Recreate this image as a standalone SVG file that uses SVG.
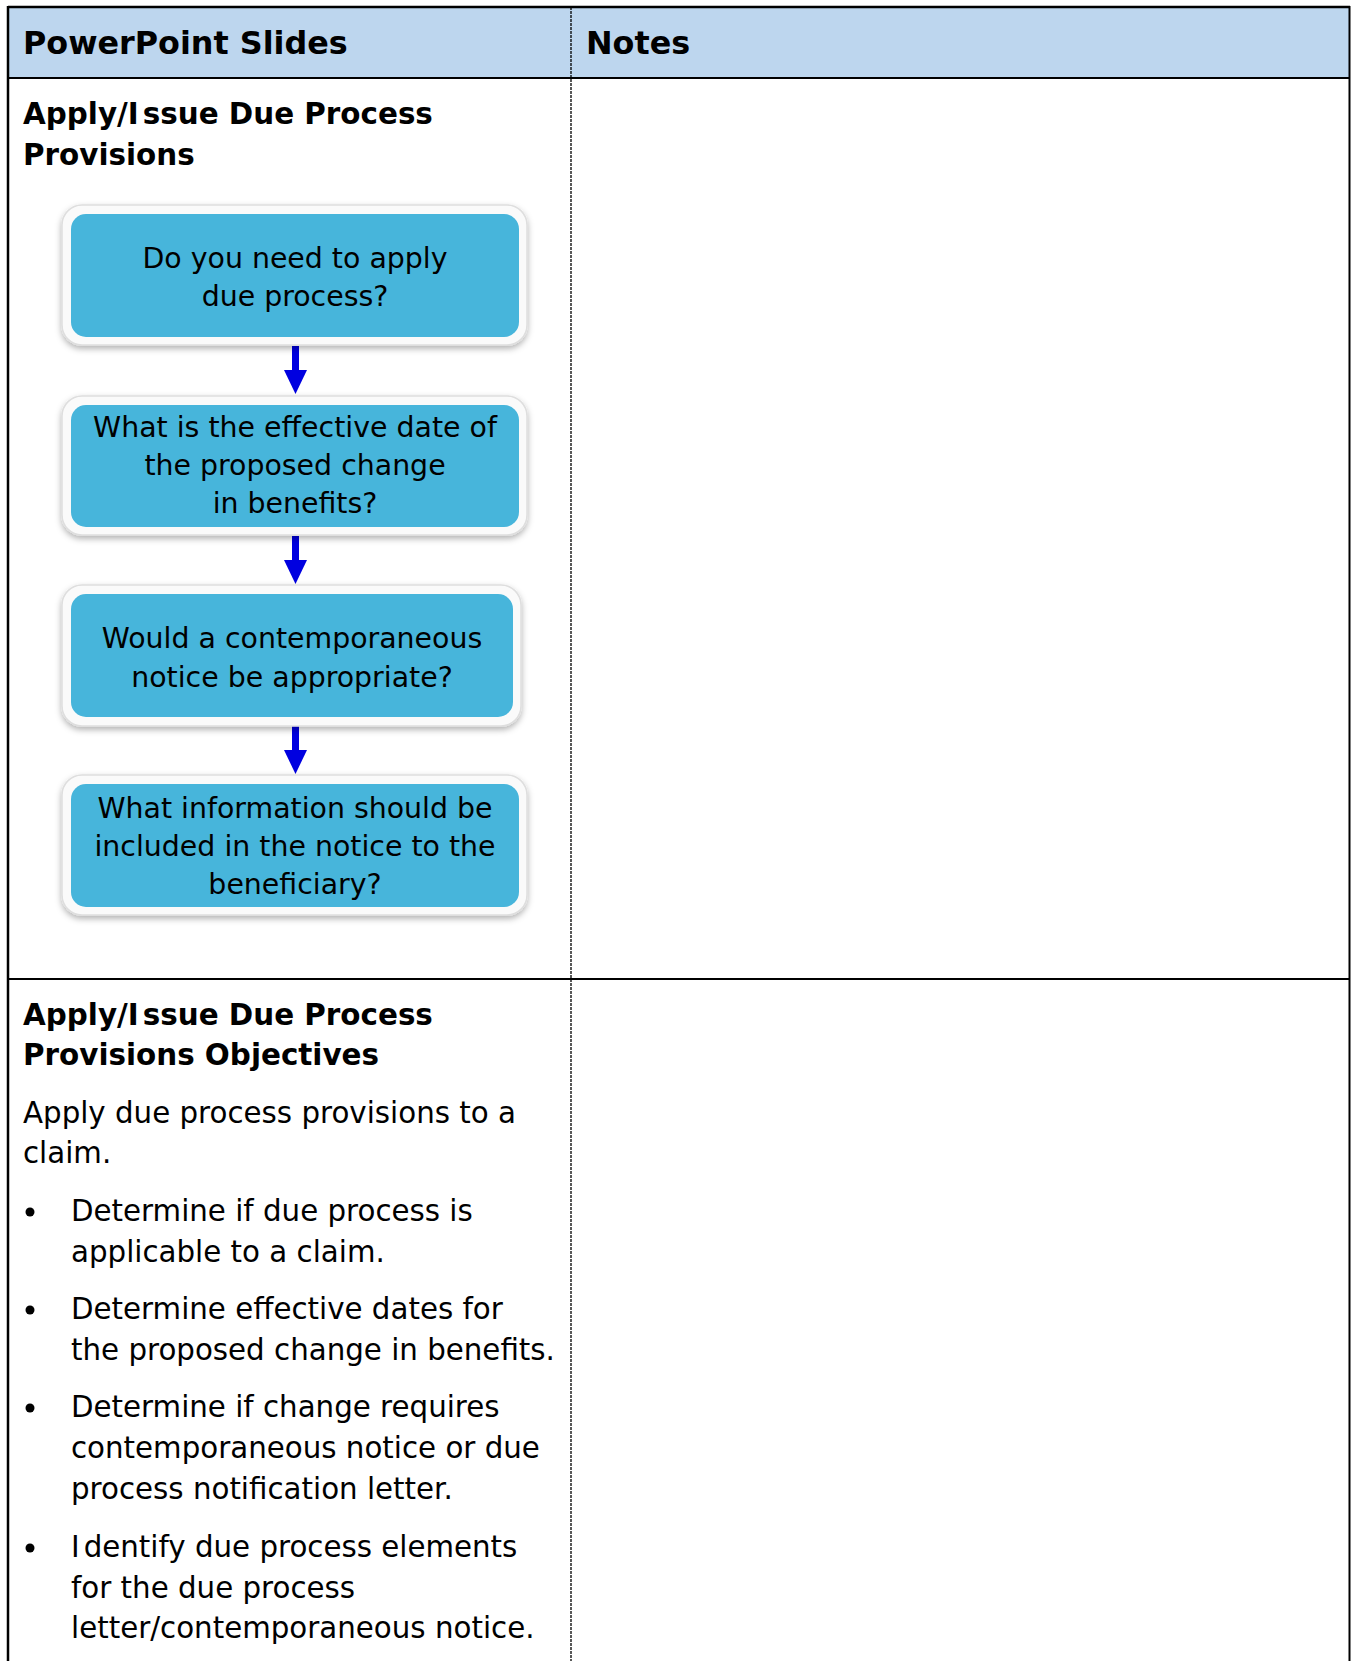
<svg xmlns="http://www.w3.org/2000/svg" width="1351" height="1661" viewBox="0 0 1351 1661">
<style>
.hd{font-family:"DejaVu Sans",Verdana,sans-serif;font-weight:bold;font-size:31.8px;fill:#000}
.ti{font-family:"DejaVu Sans",Verdana,sans-serif;font-weight:bold;font-size:29.4px;fill:#000}
.bd{font-family:"DejaVu Sans",Verdana,sans-serif;font-size:29.3px;fill:#000}
.bx{font-family:"DejaVu Sans",Verdana,sans-serif;font-size:28.4px;fill:#000;text-anchor:middle}
.frame{fill:#fafafa;stroke:#dedede;stroke-width:1.5}
.inner{fill:#47b5db}
.arrow{stroke:#0000e0;stroke-width:7;fill:none}
.ah{fill:#0000e0}
</style>
<defs>
<filter id="sh" x="-10%" y="-10%" width="120%" height="130%">
<feDropShadow dx="0" dy="3" stdDeviation="3" flood-color="#000" flood-opacity="0.3"/>
</filter>
</defs>
<rect x="0" y="0" width="1351" height="1661" fill="#fff"/>
<g id="table">
<rect x="8" y="7" width="1341" height="71" fill="#bdd6ee"/>
<line x1="8" y1="7" x2="1350" y2="7" stroke="#000" stroke-width="2.5"/>
<line x1="8" y1="78" x2="1350" y2="78" stroke="#000" stroke-width="2"/>
<line x1="8" y1="979" x2="1350" y2="979" stroke="#000" stroke-width="2"/>
<line x1="8" y1="6" x2="8" y2="1661" stroke="#000" stroke-width="2.5"/>
<line x1="1349.5" y1="6" x2="1349.5" y2="1661" stroke="#000" stroke-width="2"/>
<line x1="571" y1="7" x2="571" y2="1661" stroke="#000" stroke-width="1.3" stroke-dasharray="3,1"/>
<text class="hd" x="23" y="54">PowerPoint Slides</text>
<text class="hd" x="586" y="54">Notes</text>
<text class="ti" x="23" y="124">Apply/I<tspan dx="4">ssue Due Process</tspan></text>
<text class="ti" x="23" y="165">Provisions</text>
<text class="ti" x="23" y="1025">Apply/I<tspan dx="4">ssue Due Process</tspan></text>
<text class="ti" x="23" y="1065">Provisions Objectives</text>
<text class="bd" x="23" y="1123">Apply due process provisions to a</text>
<text class="bd" x="23" y="1163">claim.</text>
<circle cx="30" cy="1212" r="4.5"/>
<text class="bd" x="71" y="1221">Determine if due process is</text>
<text class="bd" x="71" y="1262">applicable to a claim.</text>
<circle cx="30" cy="1310" r="4.5"/>
<text class="bd" x="71" y="1319">Determine effective dates for</text>
<text class="bd" x="71" y="1360">the proposed change in benefits.</text>
<circle cx="30" cy="1408" r="4.5"/>
<text class="bd" x="71" y="1417">Determine if change requires</text>
<text class="bd" x="71" y="1458">contemporaneous notice or due</text>
<text class="bd" x="71" y="1499">process notification letter.</text>
<circle cx="30" cy="1548" r="4.5"/>
<text class="bd" x="71" y="1557">I<tspan dx="4">dentify due process elements</tspan></text>
<text class="bd" x="71" y="1598">for the due process</text>
<text class="bd" x="71" y="1638">letter/contemporaneous notice.</text>
</g>
<g id="connectors">
<line class="arrow" x1="295.5" y1="346" x2="295.5" y2="374"/>
<polygon class="ah" points="284,370 307,370 295.5,394"/>
<line class="arrow" x1="295.5" y1="536" x2="295.5" y2="564"/>
<polygon class="ah" points="284,560 307,560 295.5,584"/>
<line class="arrow" x1="295.5" y1="726" x2="295.5" y2="754"/>
<polygon class="ah" points="284,750 307,750 295.5,774"/>
</g>
<g id="node1">
<rect class="frame" x="62" y="205" width="465" height="140" rx="20" filter="url(#sh)"/>
<rect class="inner" x="71" y="214" width="448" height="123" rx="15"/>
<text class="bx" x="295" y="268">Do you need to apply</text>
<text class="bx" x="295" y="306">due process?</text>
</g>
<g id="node2">
<rect class="frame" x="62" y="396" width="465" height="139" rx="20" filter="url(#sh)"/>
<rect class="inner" x="71" y="405" width="448" height="122" rx="15"/>
<text class="bx" x="295" y="437">What is the effective date of</text>
<text class="bx" x="295" y="475">the proposed change</text>
<text class="bx" x="295" y="513">in benefits?</text>
</g>
<g id="node3">
<rect class="frame" x="62" y="585" width="459" height="141" rx="20" filter="url(#sh)"/>
<rect class="inner" x="71" y="594" width="442" height="123" rx="15"/>
<text class="bx" x="292" y="648">Would a contemporaneous</text>
<text class="bx" x="292" y="687">notice be appropriate?</text>
</g>
<g id="node4">
<rect class="frame" x="62" y="775" width="465" height="140" rx="20" filter="url(#sh)"/>
<rect class="inner" x="71" y="784" width="448" height="123" rx="15"/>
<text class="bx" x="295" y="818">What information should be</text>
<text class="bx" x="295" y="856">included in the notice to the</text>
<text class="bx" x="295" y="894">beneficiary?</text>
</g>
</svg>
